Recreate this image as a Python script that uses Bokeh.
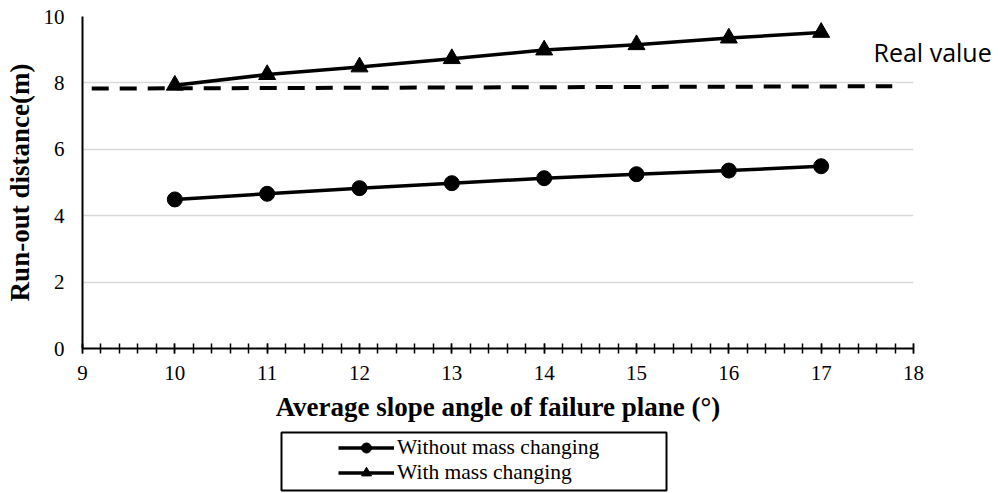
from bokeh.plotting import figure
from bokeh.layouts import column
from bokeh.models import Range1d, Legend, LegendItem, FixedTicker, LinearAxis, BoxAnnotation
from bokeh.embed import file_html
from bokeh.resources import INLINE

# ---- data ----
angles = [10, 11, 12, 13, 14, 15, 16, 17]
without_mass = [4.49, 4.66, 4.83, 4.98, 5.13, 5.25, 5.36, 5.49]
with_mass = [7.93, 8.25, 8.48, 8.73, 8.99, 9.15, 9.35, 9.52]
real_x = [9.1, 17.77]
real_y = [7.83, 7.90]
x_ticks = [9, 10, 11, 12, 13, 14, 15, 16, 17, 18]
y_ticks = [0, 2, 4, 6, 8, 10]
label_without = "Without mass changing"
label_with = "With mass changing"
real_label = "Real value"
real_label_y = 8.92

SERIF = "Liberation Serif"

p = figure(width=1000, height=430, output_backend="svg", toolbar_location=None,
           x_range=Range1d(9, 18), y_range=Range1d(0, 10),
           min_border_left=82, min_border_right=87, min_border_top=16, min_border_bottom=82)
p.outline_line_color = None
p.background_fill_color = "white"
p.border_fill_color = "white"

# grid
p.xgrid.grid_line_color = None
p.ygrid.ticker = FixedTicker(ticks=y_ticks)
p.ygrid.grid_line_color = "#d9d9d9"
p.ygrid.grid_line_width = 1.5

# x axis
xa = p.xaxis[0]
xa.ticker = FixedTicker(ticks=x_ticks, minor_ticks=[9 + 0.2 * i for i in range(46)])
xa.axis_line_color = "black"
xa.axis_line_width = 2
xa.major_tick_in = 5
xa.major_tick_out = 5
xa.minor_tick_in = 5
xa.minor_tick_out = 5
xa.major_tick_line_width = 1.5
xa.minor_tick_line_width = 1.5
xa.major_tick_line_color = "black"
xa.minor_tick_line_color = "black"
xa.major_label_text_font = SERIF
xa.major_label_text_font_size = "21px"
xa.major_label_text_color = "black"
xa.major_label_standoff = 12
xa.axis_label = "Average slope angle of failure plane (°)"
xa.axis_label_text_font = SERIF
xa.axis_label_text_font_size = "27px"
xa.axis_label_text_font_style = "bold"
xa.axis_label_text_color = "black"
xa.axis_label_standoff = 9

# y axis
ya = p.yaxis[0]
ya.ticker = FixedTicker(ticks=y_ticks)
ya.axis_line_color = "black"
ya.axis_line_width = 2
ya.major_tick_in = 0
ya.major_tick_out = 0
ya.minor_tick_line_color = None
ya.major_label_text_font = SERIF
ya.major_label_text_font_size = "21px"
ya.major_label_text_color = "black"
ya.major_label_standoff = 18
ya.axis_label = "Run-out distance(m)"
ya.axis_label_text_font = SERIF
ya.axis_label_text_font_size = "27px"
ya.axis_label_text_font_style = "bold"
ya.axis_label_text_color = "black"
ya.axis_label_standoff = 6

# "Real value" text as a right-hand label
ra = LinearAxis(ticker=FixedTicker(ticks=[real_label_y]),
                major_label_overrides={real_label_y: real_label})
ra.axis_line_color = None
ra.major_tick_line_color = None
ra.minor_tick_line_color = None
ra.major_tick_in = 0
ra.major_tick_out = 0
ra.major_label_standoff = -40
ra.major_label_text_font = "Open Sans"
ra.major_label_text_font_size = "25px"
ra.major_label_text_color = "black"
p.add_layout(ra, "right")

# real value dashed line
p.line(real_x, real_y, line_color="black", line_width=4, line_dash="17 11")

# series
p.line(angles, without_mass, line_color="black", line_width=3.5)
p.scatter(angles, without_mass, marker="circle", size=15, fill_color="black", line_color="black")
p.line(angles, with_mass, line_color="black", line_width=3.5)
p.scatter(angles, with_mass, marker="triangle", size=17, fill_color="black", line_color="black")

# ---- legend strip below ----
lg = figure(width=1000, height=63, output_backend="svg", toolbar_location=None,
            x_range=Range1d(0, 1), y_range=Range1d(0, 1),
            x_axis_type=None, y_axis_type=None,
            min_border_left=0, min_border_right=0, min_border_top=0, min_border_bottom=0)
lg.outline_line_color = None
lg.xgrid.visible = False
lg.ygrid.visible = False
ll1 = lg.line(angles, without_mass, line_color="black", line_width=3.5)
ls1 = lg.scatter(angles, without_mass, marker="circle", size=15, fill_color="black", line_color="black")
ll2 = lg.line(angles, with_mass, line_color="black", line_width=3.5)
ls2 = lg.scatter(angles, with_mass, marker="triangle", size=17, fill_color="black", line_color="black")

lg.add_layout(BoxAnnotation(left=199, right=584, bottom=3, top=61,
                            left_units="screen", right_units="screen",
                            top_units="screen", bottom_units="screen",
                            fill_alpha=0, line_color="black", line_width=2, line_alpha=1))

legend = Legend(items=[LegendItem(label=label_without, renderers=[ll1, ls1]),
                       LegendItem(label=label_with, renderers=[ll2, ls2])],
                location=(256, 8), orientation="vertical",
                glyph_width=56, glyph_height=25, label_height=25, label_standoff=3,
                spacing=0, padding=4, margin=0,
                label_text_font=SERIF, label_text_font_size="21.5px", label_text_color="black",
                border_line_color=None, background_fill_alpha=0)
lg.add_layout(legend, "center")

layout = column(p, lg, spacing=0)
open("out.html", "w").write(file_html(layout, INLINE))
